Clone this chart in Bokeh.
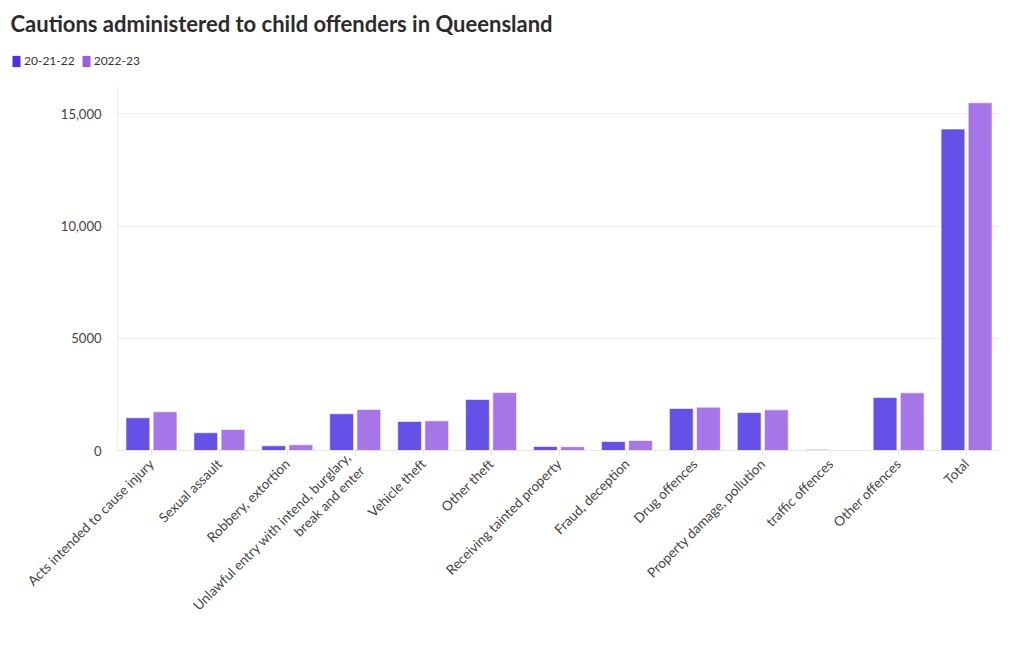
from bokeh.plotting import figure
from bokeh.models import ColumnDataSource, FactorRange, Range1d, FixedTicker, Legend, LegendItem, Label
from bokeh.layouts import column, row
from bokeh.transform import dodge
from bokeh.embed import file_html
from bokeh.resources import INLINE
import math

categories = [
    "Acts intended to cause injury",
    "Sexual assault",
    "Robbery, extortion",
    "Unlawful entry with intend, burglary,\nbreak and enter",
    "Vehicle theft",
    "Other theft",
    "Receiving tainted property",
    "Fraud, deception",
    "Drug offences",
    "Property damage, pollution",
    "traffic offences",
    "Other offences",
    "Total",
]
series_2021_22 = [1460, 790, 210, 1635, 1295, 2270, 180, 400, 1870, 1690, 45, 2360, 14320]
series_2022_23 = [1725, 935, 255, 1825, 1320, 2580, 170, 445, 1930, 1810, 20, 2570, 15490]
series_names = ["20-21-22", "2022-23"]
y_ticks = [0, 5000, 10000, 15000]
y_tick_labels = ["0", "5000", "10,000", "15,000"]
title_text = "Cautions administered to child offenders in Queensland"

FONT = "Lato"
C1 = "#6452e8"
C2 = "#a675e8"
L1 = "#4f30e2"
L2 = "#9c5ce6"

# ---- header: title + legend ----
head = figure(width=1020, height=85, x_range=Range1d(0, 1020), y_range=Range1d(0, 85),
              output_backend="svg", toolbar_location=None, x_axis_type=None, y_axis_type=None,
              min_border_left=0, min_border_right=0, min_border_top=0, min_border_bottom=0,
              title=None)
head.grid.visible = False
head.outline_line_color = None

h1 = head.vbar(x=[0], top=[0], width=1, fill_color=L1, line_color=None)
h2 = head.vbar(x=[0], top=[0], width=1, fill_color=L2, line_color=None)

head.add_layout(Label(text=title_text, x=10, y=62, text_font=FONT, text_font_size="22px",
                      text_font_style="bold", text_color="#2b2b2b", text_baseline="middle",
                      text_align="left"))

legend = Legend(items=[LegendItem(label=series_names[0], renderers=[h1]),
                       LegendItem(label=series_names[1], renderers=[h2])],
                orientation="horizontal", location=(11, 17))
legend.label_text_font = FONT
legend.label_text_font_size = "12px"
legend.label_text_color = "#333333"
legend.glyph_width = 10
legend.glyph_height = 14
legend.label_standoff = 3
legend.spacing = 6
legend.padding = 0
legend.margin = 0
legend.border_line_color = None
legend.background_fill_alpha = 0
legend.label_height = 14
head.add_layout(legend)

# ---- main chart ----
source = ColumnDataSource(dict(cat=categories, a=series_2021_22, b=series_2022_23))

p = figure(
    title=None,
    x_range=FactorRange(*categories, range_padding=0),
    y_range=Range1d(0, 16260),
    width=1020, height=565,
    output_backend="svg", toolbar_location=None,
    min_border_left=117, min_border_right=20, min_border_top=0, min_border_bottom=200,
)

p.vbar(x=dodge("cat", -0.2, range=p.x_range), top="a", width=0.35, source=source,
       fill_color=C1, line_color="white", line_width=0.6)
p.vbar(x=dodge("cat", 0.2, range=p.x_range), top="b", width=0.35, source=source,
       fill_color=C2, line_color="white", line_width=0.6)

p.yaxis.ticker = FixedTicker(ticks=y_ticks)
p.yaxis.major_label_overrides = {t: l for t, l in zip(y_ticks, y_tick_labels)}
p.yaxis.major_label_text_font = FONT
p.yaxis.major_label_text_font_size = "13px"
p.yaxis.major_label_text_color = "#444444"
p.yaxis.major_tick_line_color = None
p.yaxis.minor_tick_line_color = None
p.yaxis.axis_line_color = "#eeeeee"
p.yaxis.major_label_standoff = 10

p.xaxis.major_label_orientation = math.pi / 4
p.xaxis.major_label_text_font = FONT
p.xaxis.major_label_text_font_size = "13.5px"
p.xaxis.major_label_text_color = "#444444"
p.xaxis.axis_line_color = "#e6e6e6"
p.xaxis.major_tick_line_color = "#e6e6e6"
p.xaxis.major_tick_in = 0
p.xaxis.major_tick_out = 5
p.xaxis.major_label_standoff = 6

p.xgrid.grid_line_color = None
p.ygrid.grid_line_color = "#eeeeee"
p.outline_line_color = None

open("out.html", "w").write(file_html(column(row(head), row(p), spacing=0), INLINE))
